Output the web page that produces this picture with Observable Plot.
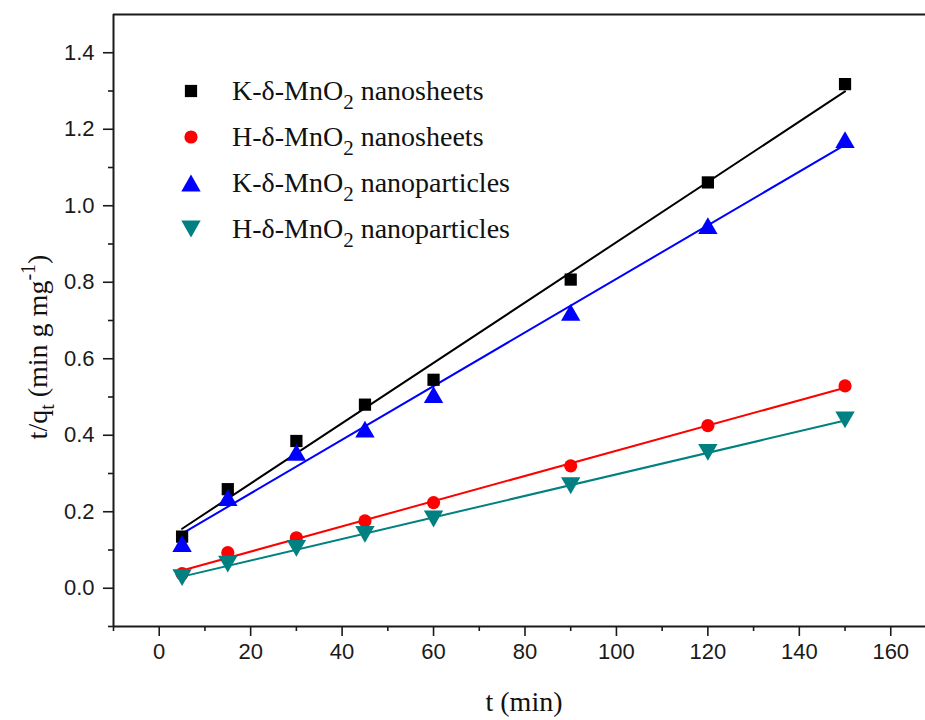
<!DOCTYPE html>
<html>
<head>
<meta charset="utf-8">
<script src="https://cdn.jsdelivr.net/npm/d3@7"></script>
<script src="https://cdn.jsdelivr.net/npm/@observablehq/plot@0.6"></script>
<style>
  html, body { margin: 0; padding: 0; background: #fff; }
  svg { display: block; }
</style>
</head>
<body>
<div id="chart"></div>
<script>
// Pseudo-second-order kinetics: t/q_t versus contact time
const time = [5, 15, 30, 45, 60, 90, 120, 150];
const kSheets    = [0.135, 0.259, 0.385, 0.480, 0.545, 0.807, 1.061, 1.318];
const hSheets    = [0.038, 0.093, 0.132, 0.176, 0.224, 0.320, 0.425, 0.529];
const kParticles = [0.117, 0.237, 0.355, 0.416, 0.506, 0.721, 0.948, 1.173];
const hParticles = [0.028, 0.063, 0.104, 0.141, 0.181, 0.268, 0.355, 0.440];

const seriesNames = [
  ["K-δ-MnO", "2", " nanosheets"],
  ["H-δ-MnO", "2", " nanosheets"],
  ["K-δ-MnO", "2", " nanoparticles"],
  ["H-δ-MnO", "2", " nanoparticles"]
];
const seriesColors = ["#000000", "#ff0000", "#0000ff", "#008080"];

const xTicks = [0, 20, 40, 60, 80, 100, 120, 140, 160];
const xMinorTicks = [-10, 10, 30, 50, 70, 90, 110, 130, 150];
const yTicks = [0.0, 0.2, 0.4, 0.6, 0.8, 1.0, 1.2, 1.4];
const yMinorTicks = [-0.1, 0.1, 0.3, 0.5, 0.7, 0.9, 1.1, 1.3];

// Marker shapes, each centred on its bounding box
const square = d3.symbolSquare;
const circle = d3.symbolCircle;
const triUp = {
  draw(ctx, size) {
    const s = Math.sqrt(size * 4 / Math.sqrt(3)); // side
    const h = s * Math.sqrt(3) / 2;
    ctx.moveTo(0, -h / 2);
    ctx.lineTo(s / 2, h / 2);
    ctx.lineTo(-s / 2, h / 2);
    ctx.closePath();
  }
};
const triDown = {
  draw(ctx, size) {
    const s = Math.sqrt(size * 4 / Math.sqrt(3));
    const h = s * Math.sqrt(3) / 2;
    ctx.moveTo(0, h / 2);
    ctx.lineTo(s / 2, -h / 2);
    ctx.lineTo(-s / 2, -h / 2);
    ctx.closePath();
  }
};

const seriesValues = [kSheets, hSheets, kParticles, hParticles];
const seriesSymbols = [square, circle, triUp, triDown];
const seriesRadius = [6.9, 6.6, 7.2, 7.2];

const series = seriesValues.map((vals, k) => ({
  color: seriesColors[k],
  symbol: seriesSymbols[k],
  r: seriesRadius[k],
  rows: time.map((t, i) => ({t, v: vals[i]}))
}));

const serif = "'Liberation Serif', 'Times New Roman', serif";
const sans = "'Liberation Sans', Arial, sans-serif";
const axisColor = "#1a1a1a";

const chart = Plot.plot({
  width: 925,
  height: 720,
  marginLeft: 113,
  marginRight: 0,
  marginTop: 14,
  marginBottom: 94,
  style: {fontFamily: sans, fontSize: "22px", background: "#fff", color: axisColor},
  x: {domain: [-10, 167.6], label: null},
  y: {domain: [-0.1, 1.5], label: null},
  marks: [
    Plot.axisX({ticks: xTicks, tickSize: 10, tickPadding: 7, fontSize: 22, strokeWidth: 1.6, label: null}),
    Plot.axisX({ticks: xMinorTicks, tickSize: 5, fill: "none", strokeWidth: 1.6, label: null}),
    Plot.axisY({ticks: yTicks, tickSize: 10, tickPadding: 9, fontSize: 22, strokeWidth: 1.6,
                tickFormat: d3.format(".1f"), label: null}),
    Plot.axisY({ticks: yMinorTicks, tickSize: 5, fill: "none", strokeWidth: 1.6, label: null}),
    Plot.ruleX([-10], {stroke: axisColor, strokeWidth: 2}),
    Plot.ruleY([-0.1], {stroke: axisColor, strokeWidth: 2}),
    Plot.ruleY([1.5], {stroke: axisColor, strokeWidth: 2}),
    ...series.map(s => Plot.linearRegressionY(s.rows, {x: "t", y: "v", stroke: s.color, strokeWidth: 2, ci: 0})),
    ...series.map(s => Plot.dot(s.rows, {x: "t", y: "v", symbol: s.symbol, r: s.r, fill: s.color, stroke: "none"}))
  ]
});

document.getElementById("chart").appendChild(chart);

// Axis titles with sub- and superscripts
const svg = d3.select(chart);

svg.append("text")
  .attr("x", 524).attr("y", 711)
  .attr("text-anchor", "middle")
  .attr("font-family", serif).attr("font-size", 28).attr("fill", "#111")
  .text("t (min)");

const yTitle = svg.append("text")
  .attr("transform", "translate(47,347) rotate(-90)")
  .attr("text-anchor", "middle")
  .attr("font-family", serif).attr("font-size", 28).attr("fill", "#111");
yTitle.append("tspan").text("t/q");
yTitle.append("tspan").attr("font-size", 20).attr("dy", 7).text("t");
yTitle.append("tspan").attr("dy", -7).text(" (min g mg");
yTitle.append("tspan").attr("font-size", 20).attr("dy", -12).text("-1");
yTitle.append("tspan").attr("dy", 12).text(")");

// Legend
const legend = svg.append("g").attr("transform", "translate(191,91)");
series.forEach((s, i) => {
  const row = legend.append("g").attr("transform", `translate(0,${i * 46})`);
  row.append("path")
    .attr("d", d3.symbol(s.symbol, Math.PI * s.r * s.r)())
    .attr("fill", s.color);
  const label = row.append("text")
    .attr("x", 41).attr("y", 9)
    .attr("text-anchor", "start")
    .attr("font-family", serif).attr("font-size", 28).attr("fill", "#111");
  const [pre, sub, post] = seriesNames[i];
  label.append("tspan").text(pre);
  label.append("tspan").attr("font-size", 21).attr("dy", 9).text(sub);
  label.append("tspan").attr("dy", -9).text(post);
});
</script>
</body>
</html>
